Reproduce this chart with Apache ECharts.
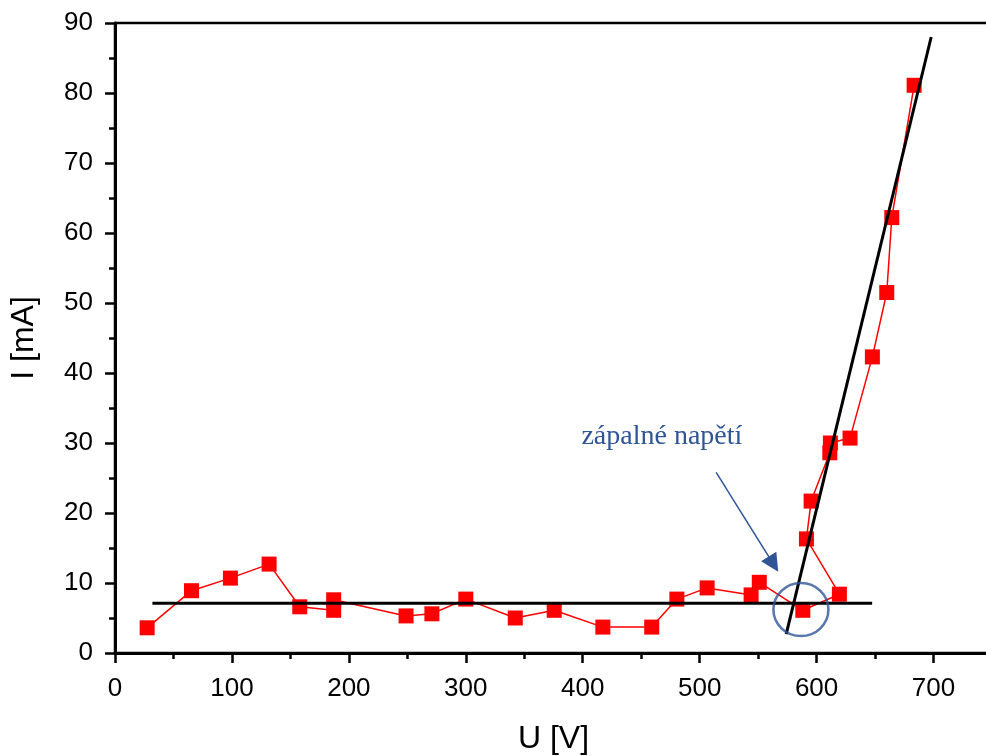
<!DOCTYPE html>
<html><head><meta charset="utf-8">
<script src="https://cdn.jsdelivr.net/npm/echarts@6/dist/echarts.min.js"></script>
<style>html,body{margin:0;padding:0;background:#fff}#c{width:986px;height:756px}</style>
</head><body><div id="c"></div>
<script>
// measured data (U in V, I in mA), in drawing order
const voltage = [27.5, 65.4, 98.7, 131.8, 158, 187, 187, 248.9, 271, 300, 342.3, 375.6, 417.2, 459, 480.5, 506.4, 544, 551, 588.2, 619.5, 591.3, 595.3, 611.3, 611.8, 628.6, 647.7, 660, 664.3, 683.4];
const current = [3.6, 8.9, 10.7, 12.7, 6.6, 6.1, 7.6, 5.3, 5.6, 7.7, 5.0, 6.1, 3.7, 3.7, 7.7, 9.3, 8.3, 10.1, 6.1, 8.4, 16.3, 21.7, 28.6, 30.0, 30.7, 42.3, 51.5, 62.2, 81.1];
// fitted lines
const fitFlatU = [32, 647.5];
const fitFlatI = [7.1, 7.1];
const fitSteepU = [574, 698];
const fitSteepI = [2.7, 88];
// annotation (data coordinates)
const noteText = 'zápalné napětí';
const noteAt = [467.7, 30.9];
const arrowFrom = [514.1, 25.8];
const arrowTo = [563.1, 12.7];
const circleAt = [586.6, 6.2];

const pts = voltage.map((u, i) => [u, current[i]]);
const flat = fitFlatU.map((u, i) => [u, fitFlatI[i]]);
const steep = fitSteepU.map((u, i) => [u, fitSteepI[i]]);

const axisFont = {fontFamily: 'Liberation Sans', fontSize: 26, color: '#000'};
const nameFont = {fontFamily: 'Liberation Sans', fontSize: 32, color: '#000'};
const blue = '#2F5597';

const chart = echarts.init(document.getElementById('c'), null, {renderer: 'canvas'});
chart.setOption({
  animation: false,
  backgroundColor: '#fff',
  grid: {left: 115, right: -6, top: 23, bottom: 103, show: true, borderColor: '#000', borderWidth: 2.5, containLabel: false, outerBoundsMode: 'none'},
  xAxis: {
    type: 'value', min: 0, max: 750, interval: 100,
    name: 'U [V]', nameLocation: 'middle', nameGap: 70, nameTextStyle: nameFont,
    axisLine: {show: true, onZero: false, lineStyle: {color: '#000', width: 3}},
    axisTick: {show: true, inside: false, length: 10, lineStyle: {color: '#000', width: 2.5}},
    minorTick: {show: true, splitNumber: 2, length: 6, lineStyle: {color: '#000', width: 2.5}},
    axisLabel: Object.assign({margin: 23, showMaxLabel: false}, axisFont),
    splitLine: {show: false}
  },
  yAxis: {
    type: 'value', min: 0, max: 90, interval: 10,
    name: 'I [mA]', nameLocation: 'middle', nameGap: 75, nameTextStyle: nameFont,
    axisLine: {show: true, onZero: false, lineStyle: {color: '#000', width: 3}},
    axisTick: {show: true, inside: false, length: 10, lineStyle: {color: '#000', width: 2.5}},
    minorTick: {show: true, splitNumber: 2, length: 6, lineStyle: {color: '#000', width: 2.5}},
    axisLabel: Object.assign({margin: 22}, axisFont),
    splitLine: {show: false}
  },
  series: [
    {
      type: 'line', data: pts, symbol: 'rect', symbolSize: 15, z: 2,
      itemStyle: {color: '#FF0000'},
      lineStyle: {color: '#FF0000', width: 1.5}
    },
    {
      type: 'line', data: flat, symbol: 'none', z: 4,
      lineStyle: {color: '#000', width: 3}
    },
    {
      type: 'line', data: steep, symbol: 'none', z: 4,
      lineStyle: {color: '#000', width: 3},
      markLine: {
        silent: true, symbol: ['none', 'triangle'], symbolSize: 18,
        lineStyle: {color: blue, width: 1.5, type: 'solid'},
        itemStyle: {color: blue},
        label: {show: false},
        data: [[{coord: arrowFrom}, {coord: arrowTo}]]
      }
    },
    {
      type: 'scatter', data: [circleAt], symbol: 'circle', symbolSize: [55, 53], z: 5,
      itemStyle: {color: 'rgba(0,0,0,0)', borderColor: blue, borderWidth: 2.5}
    }
  ]
});
const p = chart.convertToPixel({gridIndex: 0}, noteAt);
chart.setOption({
  graphic: [{
    type: 'text', x: p[0], y: p[1], z: 10,
    style: {text: noteText, fontFamily: 'Liberation Serif', fontSize: 28, fill: blue, align: 'center', verticalAlign: 'middle'}
  }]
});
</script></body></html>
